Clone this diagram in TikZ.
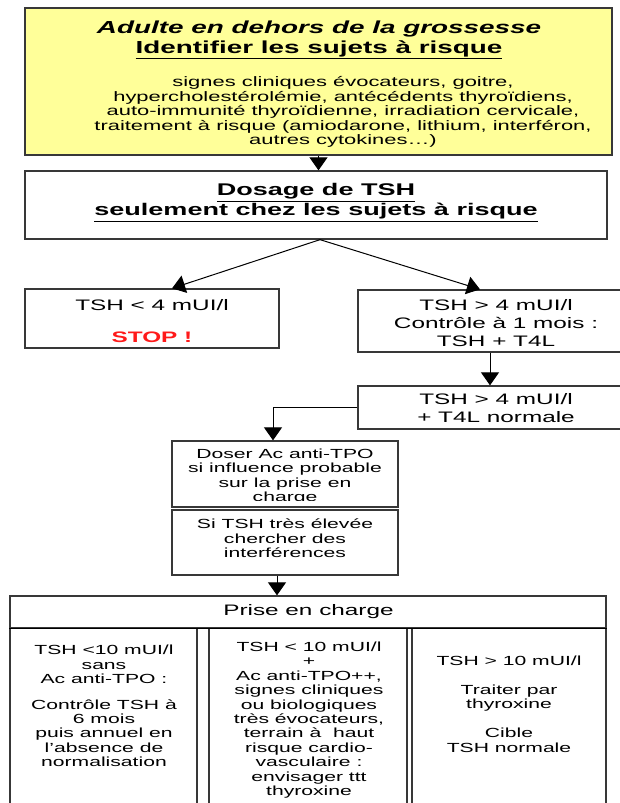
\documentclass[tikz,border=0pt]{standalone}
\usepackage{fontspec}
\setmainfont{Liberation Sans}[FakeStretch=1.6]
\usetikzlibrary{arrows.meta}
\newcommand{\myfs}[2]{\fontsize{#1pt}{#2pt}\selectfont}
\definecolor{ylw}{HTML}{FFFF99}
\definecolor{stopred}{HTML}{FF1A1A}
\begin{document}
\begin{tikzpicture}[x=1pt,y=-1pt,
  box/.style={draw=black!78, line width=1.3pt, inner sep=0pt},
  txt/.style={align=center, inner sep=0pt, text=black},
  arr/.style={draw=black, line width=1pt, -{Triangle[width=18pt,length=13pt]}},
  big/.style={font=\myfs{15.2}{18}},
  small/.style={font=\myfs{13.2}{14.4}}]
\useasboundingbox (0,0) rectangle (620,803);
\clip (0,0) rectangle (620,803);
\fill[white] (0,0) rectangle (620,803);

% top box
\node[box, fill=ylw, minimum width=587pt, minimum height=147pt] (risk) at (318.5,81.5) {};
\node[txt, font=\myfs{17.4}{20}\bfseries] (title) at (319,40)
  {\textit{Adulte en dehors de la grossesse}\\\underline{Identifier les sujets à risque}};
\node[txt, font=\myfs{13.7}{14.5}] (body) at (343,112)
  {signes cliniques évocateurs, goitre,\\hypercholestérolémie, antécédents thyroïdiens,\\auto-immunité thyroïdienne, irradiation cervicale,\\traitement à risque (amiodarone, lithium, interféron,\\autres cytokines…)};

% dosage
\node[box, minimum width=582pt, minimum height=68pt] (dosage) at (316,205) {};
\node[txt, font=\myfs{16.9}{20}\bfseries] (dosagetxt) at (316,202.5)
  {\underline{Dosage de TSH}\\\underline{seulement chez les sujets à risque}};

% TSH < 4
\node[box, minimum width=254pt, minimum height=59pt] (lt) at (152,318.5) {};
\node[txt, big] (lttxt) at (152,321)
  {TSH < 4 mUI/l\\[14pt]\textcolor{stopred}{\bfseries STOP !}};

% TSH > 4
\node[box, minimum width=264pt, minimum height=62pt] (rt) at (490,321) {};
\node[txt, big] (rttxt) at (496,323) {TSH > 4 mUI/l\\Contrôle à 1 mois :\\TSH + T4L};
\node[box, minimum width=264pt, minimum height=43pt] (rt2) at (490,407.5) {};
\node[txt, big] (rt2txt) at (496,408) {TSH > 4 mUI/l\\+ T4L normale};

% Doser / Si TSH
\node[box, minimum width=226pt, minimum height=66pt] (doser) at (285,474) {};
\begin{scope}
  \clip (172,441) rectangle (398,500.5);
  \node[txt, font=\myfs{13.2}{14.4}] (dosertxt) at (285,476.6)
    {Doser Ac anti-TPO\\si influence probable\\sur la prise en\\charge};
\end{scope}
\node[box, minimum width=226pt, minimum height=65pt] (sitsh) at (285,542.5) {};
\node[txt, font=\myfs{13.2}{14.4}] (sitshtxt) at (285,538.5)
  {Si TSH très élevée\\chercher des\\interférences};

% Prise en charge
\node[box, minimum width=596pt, minimum height=32pt] (prise) at (308,612) {};
\node[txt, big] (prisetxt) at (308.5,612) {Prise en charge};
\node[box, minimum width=187pt, minimum height=202pt] (c1) at (103.5,729) {};
\node[box, minimum width=198pt, minimum height=202pt] (c2) at (308,729) {};
\node[box, minimum width=194pt, minimum height=202pt] (c3) at (509,729) {};
\draw[black, line width=1.5pt] (prise.south west) -- (prise.south east);

\node[txt, small] (c1txt) at (104,706)
  {TSH <10 mUI/l\\sans\\Ac anti-TPO :\\[11pt]Contrôle TSH à\\6 mois\\puis annuel en\\l’absence de\\normalisation};
\node[txt, small] (c2txt) at (309,720)
  {TSH < 10 mUI/l\\+\\Ac anti-TPO++,\\signes cliniques\\ou biologiques\\très évocateurs,\\terrain à~ haut\\risque cardio-\\vasculaire :\\envisager ttt\\thyroxine};
\node[txt, small] (c3txt) at (509,704)
  {TSH > 10 mUI/l\\[14.8pt]Traiter par\\thyroxine\\[14.8pt]Cible\\TSH normale};

% connectors
\draw[arr] (risk.south) -- (risk.south |- dosage.north);
\draw[arr] ([xshift=4pt]dosage.south) -- ([xshift=20pt]lt.north);
\draw[arr] ([xshift=4pt]dosage.south) -- ([xshift=-10pt]rt.north);
\draw[arr] (rt.south) -- (rt2.north);
\draw[arr] (rt2.west) -| ([xshift=-12pt]doser.north);
\coordinate (a4) at ([xshift=-8pt]sitsh.south);
\draw[arr] (a4) -- (a4 |- prise.north);
\end{tikzpicture}
\end{document}
